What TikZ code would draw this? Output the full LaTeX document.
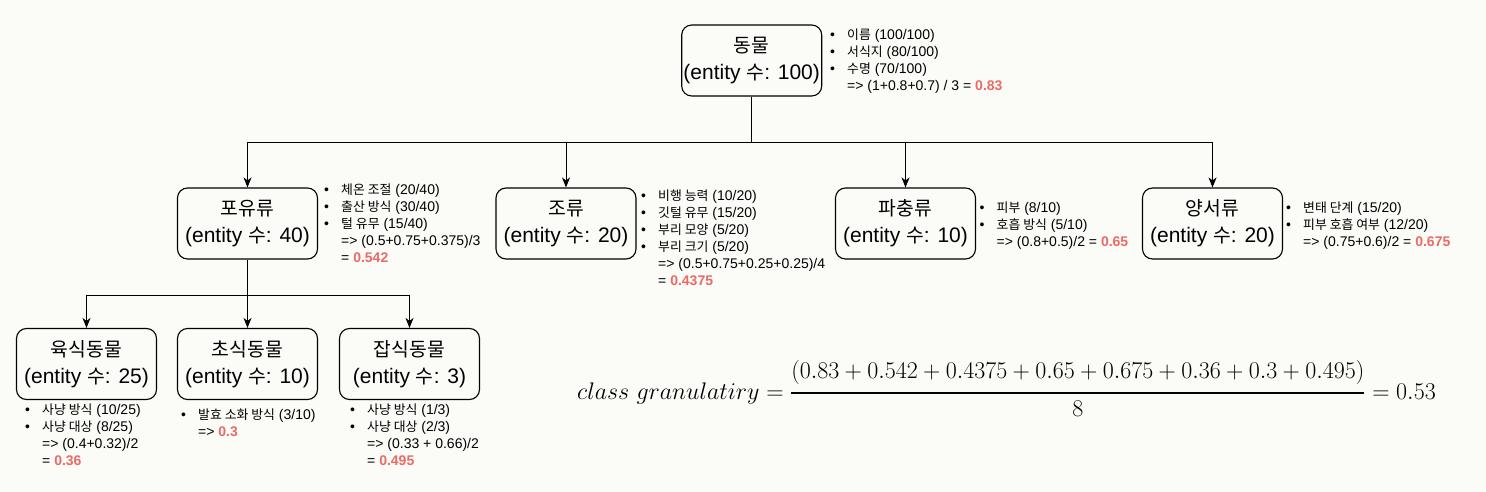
\RequirePackage{fix-cm}
\documentclass[tikz,border=0pt]{standalone}
\usepackage{fontspec}
\usetikzlibrary{arrows.meta}
\newfontfamily\hv{Liberation Sans}
\newfontfamily\kr[Scale=0.92]{Noto Sans CJK KR}
\definecolor{bgc}{RGB}{251,251,248}
\definecolor{redv}{RGB}{234,107,102}
\newcommand{\annbul}{\makebox[17pt][l]{•}}
\newcommand{\anncont}{\hspace*{17pt}}
\newcommand{\redval}[1]{\textcolor{redv}{\bfseries #1}}
\tikzset{
  box/.style={draw, line width=1.1pt, rounded corners=10pt, minimum width=140pt,
    minimum height=71pt, align=center, inner sep=0pt,
    font=\hv\fontsize{21}{27}\selectfont},
  anno/.style={anchor=north west, inner sep=0pt, align=left,
    font=\hv\fontsize{14}{17}\selectfont},
  conn/.style={line width=0.9pt},
  arr/.style={line width=0.9pt, -{Stealth[length=10pt,width=8pt,inset=3pt]}}
}
\begin{document}
\begin{tikzpicture}[x=1pt,y=-1pt]
\fill[bgc] (0,0) rectangle (1486,492);
\useasboundingbox (0,0) rectangle (1486,492);

% boxes
\node[box] (root) at (751.7,60.5) {{\kr 동물}\\(entity {\kr 수}: 100)};
\node[box] (mam)  at (247.5,223.5) {{\kr 포유류}\\(entity {\kr 수}: 40)};
\node[box] (bird) at (566,223.5) {{\kr 조류}\\(entity {\kr 수}: 20)};
\node[box] (rep)  at (905.5,223.5) {{\kr 파충류}\\(entity {\kr 수}: 10)};
\node[box] (amp)  at (1212.5,223.5) {{\kr 양서류}\\(entity {\kr 수}: 20)};
\node[box] (carn) at (86.5,364) {{\kr 육식동물}\\(entity {\kr 수}: 25)};
\node[box] (herb) at (247.5,364) {{\kr 초식동물}\\(entity {\kr 수}: 10)};
\node[box] (omni) at (409.5,364) {{\kr 잡식동물}\\(entity {\kr 수}: 3)};

% connectors
\coordinate (j1) at (751.7,142);
\coordinate (j2) at (247.5,295);
\draw[conn] (root.south) -- (j1);
\draw[arr] (j1) -| (mam.north);
\draw[arr] (j1) -| (bird.north);
\draw[arr] (j1) -| (rep.north);
\draw[arr] (j1) -| (amp.north);
\draw[arr] (mam.south) -- (herb.north);
\draw[arr] (j2) -| (carn.north);
\draw[arr] (j2) -| (omni.north);

% annotations
\node[anno] (a0) at (830,27) {\strut\annbul{\kr 이름} (100/100)\\\annbul{\kr 서식지} (80/100)\\\annbul{\kr 수명} (70/100)\\\anncont=> (1+0.8+0.7) / 3 = \redval{0.83}};
\node[anno] (a1) at (324,182) {\strut\annbul{\kr 체온 조절} (20/40)\\\annbul{\kr 출산 방식} (30/40)\\\annbul{\kr 털 유무} (15/40)\\\anncont=> (0.5+0.75+0.375)/3\\\anncont= \redval{0.542}};
\node[anno] (a2) at (641,188) {\strut\annbul{\kr 비행 능력} (10/20)\\\annbul{\kr 깃털 유무} (15/20)\\\annbul{\kr 부리 모양} (5/20)\\\annbul{\kr 부리 크기} (5/20)\\\anncont=> (0.5+0.75+0.25+0.25)/4\\\anncont= \redval{0.4375}};
\node[anno] (a3) at (979.5,200) {\strut\annbul{\kr 피부} (8/10)\\\annbul{\kr 호흡 방식} (5/10)\\\anncont=> (0.8+0.5)/2 = \redval{0.65}};
\node[anno] (a4) at (1286,200) {\strut\annbul{\kr 변태 단계} (15/20)\\\annbul{\kr 피부 호흡 여부} (12/20)\\\anncont=> (0.75+0.6)/2 = \redval{0.675}};
\node[anno] (a5) at (25,402) {\strut\annbul{\kr 사냥 방식} (10/25)\\\annbul{\kr 사냥 대상} (8/25)\\\anncont=> (0.4+0.32)/2\\\anncont= \redval{0.36}};
\node[anno] (a6) at (181,407) {\strut\annbul{\kr 발효 소화 방식} (3/10)\\\anncont=> \redval{0.3}};
\node[anno] (a7) at (350,402) {\strut\annbul{\kr 사냥 방식} (1/3)\\\annbul{\kr 사냥 대상} (2/3)\\\anncont=> (0.33 + 0.66)/2\\\anncont= \redval{0.495}};

% formula
\node[anchor=base west, inner sep=0pt, font=\fontsize{24}{29}\selectfont] (formula) at (577,399)
  {$\displaystyle class\ granulatiry = {(0.83 + 0.542 + 0.4375 + 0.65 + 0.675 + 0.36 + 0.3 + 0.495)\above 2.4pt 8} = 0.53$};
\end{tikzpicture}
\end{document}
